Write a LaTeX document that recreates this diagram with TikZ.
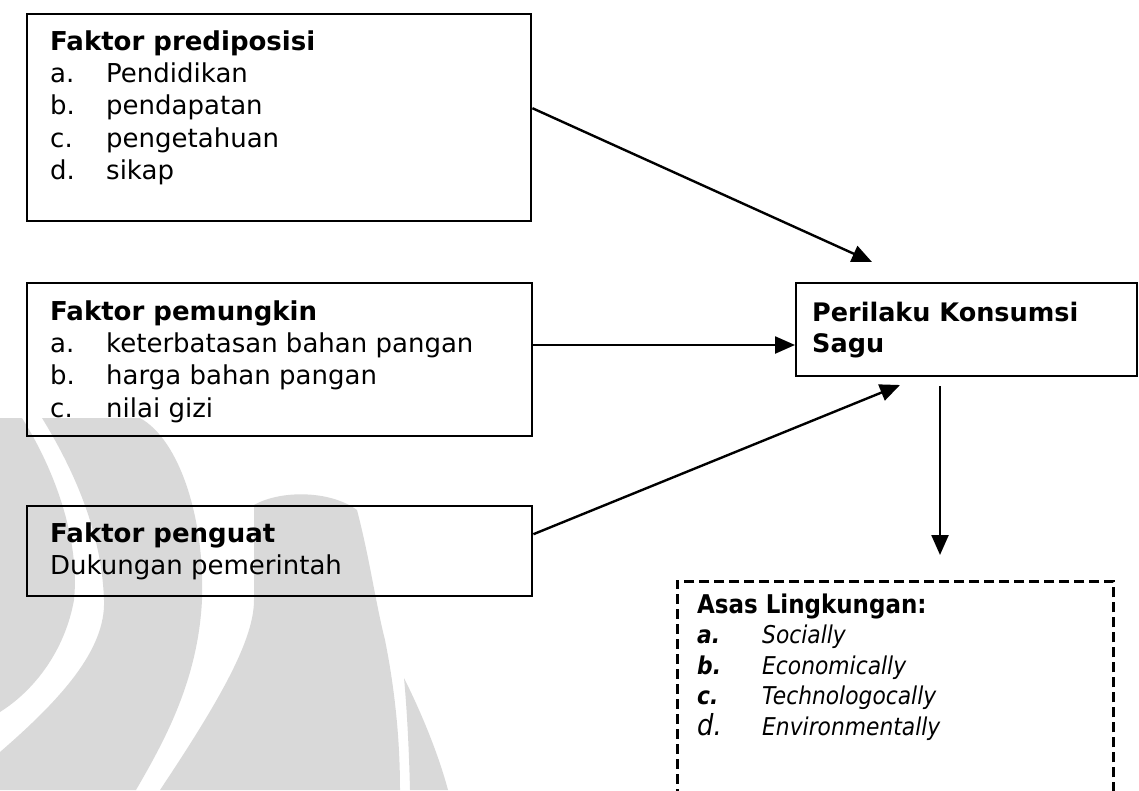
\documentclass[tikz,border=0pt]{standalone}
\usepackage{fontspec}
\setmainfont{DejaVu Sans}
\newfontfamily\narrowfont[FakeStretch=0.89]{DejaVu Sans}
\usetikzlibrary{arrows.meta}

\begin{document}
\begin{tikzpicture}[x=1pt,y=-1pt,
    factorBox/.style={draw,line width=2.4pt,anchor=north west,inner sep=0pt},
    factorText/.style={anchor=north west,inner sep=0pt,align=left,font=\fontsize{26}{32.4}\selectfont},
    asasText/.style={anchor=north west,inner sep=0pt,align=left,font=\narrowfont\fontsize{24.5}{30.5}\selectfont},
    asasBox/.style={draw,line width=2.6pt,dash pattern=on 10pt off 5pt,anchor=north west,inner sep=0pt},
    flow/.style={line width=2.4pt,-{Triangle[length=20pt,width=17pt]}},
    wmark/.style={black!15},
]
\useasboundingbox (0,0) rectangle (1139,790);
\clip (0,0) rectangle (1139,790);
% watermark
\fill[wmark] (0,418) -- (22,418) .. controls (55,470) and (80,540) .. (74,600)
  .. controls (65,650) and (35,690) .. (0,712) -- cycle;
\fill[wmark] (42,418) -- (140,418) .. controls (180,440) and (205,520) .. (202,600)
  .. controls (198,680) and (165,740) .. (136,790) -- (0,790) -- (0,752)
  .. controls (60,700) and (106,650) .. (104,600) .. controls (102,540) and (80,480) .. cycle;
\fill[wmark] (254,505) .. controls (280,490) and (330,490) .. (357,510)
  .. controls (370,560) and (375,600) .. (385,640) .. controls (395,690) and (400,740) .. (400,790)
  -- (160,790) .. controls (220,700) and (254,640) .. (254,600) -- cycle;
\fill[wmark] (404,678) .. controls (425,720) and (440,760) .. (448,790) -- (410,790)
  .. controls (409,750) and (407,710) .. cycle;
% boxes
\node[factorBox,minimum width=504pt,minimum height=207pt] (pred) at (26,13) {};
\node[factorBox,minimum width=505pt,minimum height=153pt] (pemungkin) at (26,282) {};
\node[factorBox,minimum width=505pt,minimum height=90pt] (penguat) at (26,505) {};
\node[factorBox,minimum width=341pt,minimum height=93pt] (perilaku) at (795,282) {};
\node[asasBox,minimum width=436pt,minimum height=240pt] (asas) at (676,580) {};
% texts
\node[factorText] (predtext) at (50,27.3) {\strut\textbf{Faktor prediposisi}\\
  \makebox[56pt][l]{a.}Pendidikan\\
  \makebox[56pt][l]{b.}pendapatan\\
  \makebox[56pt][l]{c.}pengetahuan\\
  \makebox[56pt][l]{d.}sikap};
\node[factorText] (pemungkintext) at (50,297.3) {\strut\textbf{Faktor pemungkin}\\
  \makebox[56pt][l]{a.}keterbatasan bahan pangan\\
  \makebox[56pt][l]{b.}harga bahan pangan\\
  \makebox[56pt][l]{c.}nilai gizi};
\node[factorText] (penguattext) at (50,519.3) {\strut\textbf{Faktor penguat}\\
  Dukungan pemerintah};
\node[factorText,font=\bfseries\fontsize{25.5}{31}\selectfont] (perilakutext) at (812,299.3)
  {\strut Perilaku Konsumsi\\ Sagu};
\node[asasText] (asastext) at (697,591.6) {\strut{\fontsize{25.8}{30.5}\selectfont\textbf{Asas Lingkungan:}}\\
  \makebox[65pt][l]{\textbf{\textit{a.}}}\textit{Socially}\\
  \makebox[65pt][l]{\textbf{\textit{b.}}}\textit{Economically}\\
  \makebox[65pt][l]{\textbf{\textit{c.}}}\textit{Technologocally}\\
  \makebox[65pt][l]{\textit{\fontsize{29}{30.5}\selectfont d.}}\textit{Environmentally}};
% arrows
\coordinate (predtip) at (872,262);
\coordinate (penguattip) at (900,385);
\coordinate (asastop) at (940,555);
\draw[flow] ([yshift=9.5pt]pred.east) -- (predtip);
\draw[flow] (pemungkin.east |- 0,345) -- (perilaku.west |- 0,345);
\draw[flow] ([yshift=17pt]penguat.east) -- (penguattip);
\draw[flow] ([yshift=-9pt]perilaku.south -| asastop) -- (asastop);
\end{tikzpicture}
\end{document}
